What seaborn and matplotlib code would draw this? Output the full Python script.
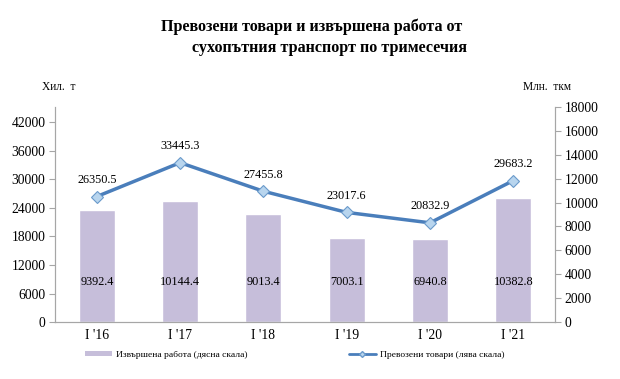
import matplotlib
matplotlib.use('Agg')
import matplotlib.pyplot as plt
import seaborn as sns
import pandas as pd
from matplotlib.lines import Line2D
from matplotlib.patches import Patch

# data
quarters = ["I '16", "I '17", "I '18", "I '19", "I '20", "I '21"]
work_mln_tkm = [9392.4, 10144.4, 9013.4, 7003.1, 6940.8, 10382.8]   # bars, right axis
goods_th_t = [26350.5, 33445.3, 27455.8, 23017.6, 20832.9, 29683.2]  # line, left axis

left_ticks = [0, 6000, 12000, 18000, 24000, 30000, 36000, 42000]
right_ticks = [0, 2000, 4000, 6000, 8000, 10000, 12000, 14000, 16000, 18000]

df = pd.DataFrame({'quarter': quarters, 'work': work_mln_tkm, 'goods': goods_th_t})

sns.set_style('white')
plt.rcParams['font.family'] = ['Liberation Serif', 'DejaVu Serif']
plt.rcParams['font.size'] = 8
plt.rcParams['text.color'] = 'black'
plt.rcParams['xtick.color'] = 'black'
plt.rcParams['ytick.color'] = 'black'

bar_color = '#C6BEDA'
line_color = '#4A7EBB'
grey = '#A6A6A6'

fig = plt.figure(figsize=(6.2, 3.79), dpi=100)
ax = fig.add_axes([0.089, 0.150, 0.806, 0.568])

# bars on the main axes, y scale shown on the right
sns.barplot(data=df, x='quarter', y='work', color=bar_color, width=0.43,
            saturation=1, ax=ax, zorder=2)
ax.set_ylim(0, 18000)
ax.set_xlim(-0.5, len(quarters) - 0.5)
ax.set_xlabel('')
ax.set_ylabel('')

for i, v in enumerate(work_mln_tkm):
    ax.text(i, 3350, f'{v:.1f}', ha='center', va='center', fontsize=8.8)

# line on the twin axes, y scale shown on the left
ax2 = ax.twinx()
sns.lineplot(x=range(len(quarters)), y=goods_th_t, ax=ax2, color=line_color,
             linewidth=2.5, marker='D', markersize=6.5,
             markerfacecolor='#B8D5EE', markeredgecolor='#6A9ACB',
             markeredgewidth=0.8, zorder=3)
ax2.set_ylim(0, 45150)
for i, v in enumerate(goods_th_t):
    ax2.text(i, v + 2200, f'{v:.1f}', ha='center', va='bottom', fontsize=8.8)

# swap sides: bar scale right, line scale left (after twinx)
ax.yaxis.tick_right()
ax.set_yticks(right_ticks)
ax2.yaxis.tick_left()
ax2.set_yticks(left_ticks)

# spines and ticks, Excel style
for a in (ax, ax2):
    a.spines['top'].set_visible(False)
    for s in ('left', 'right', 'bottom'):
        a.spines[s].set_color(grey)
        a.spines[s].set_linewidth(0.8)
    a.tick_params(axis='y', labelsize=9.8, length=4, width=0.8, color=grey,
                  labelcolor='black', pad=3)

ax.tick_params(axis='x', labelsize=9.8, length=0, pad=5, labelcolor='black')
ax.set_xticks(range(len(quarters)))
ax.set_xticklabels(quarters)
ax.set_xticks([i + 0.5 for i in range(-1, len(quarters))], minor=True)
ax.tick_params(axis='x', which='minor', length=4, width=0.8, color=grey)

# titles and unit labels
fig.text(0.502, 0.929, 'Превозени товари и извършена работа от',
         ha='center', va='center', fontsize=11.6, fontweight='bold')
fig.text(0.532, 0.873, 'сухопътния транспорт по тримесечия',
         ha='center', va='center', fontsize=11.6, fontweight='bold')
fig.text(0.094, 0.770, 'Хил.  т', ha='center', va='center', fontsize=8.3)
fig.text(0.882, 0.770, 'Млн.  ткм', ha='center', va='center', fontsize=8.3)

# legend
handles = [Patch(facecolor=bar_color, edgecolor='none'),
           Line2D([0], [0], color=line_color, linewidth=2, marker='D',
                  markersize=3, markerfacecolor='#B8D5EE', markeredgecolor='#6A9ACB')]
labels = ['Извършена работа (дясна скала)', 'Превозени товари (лява скала)']
fig.legend(handles, labels, loc='center', bbox_to_anchor=(0.475, 0.063), ncol=2,
           frameon=False, fontsize=6.8, columnspacing=10.7, handlelength=2.9,
           handleheight=0.5, handletextpad=0.4)

fig.savefig('out.png', dpi=100)
